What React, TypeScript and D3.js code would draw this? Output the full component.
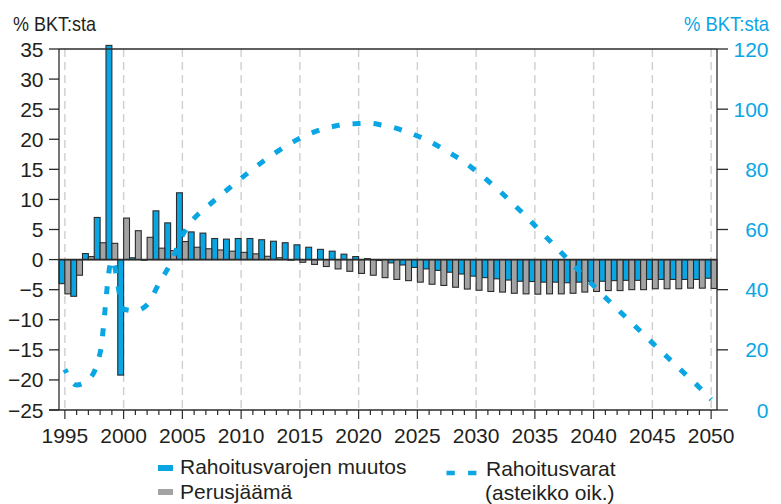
import React from 'react';
import * as d3 from 'd3';

const years = [1995,1996,1997,1998,1999,2000,2001,2002,2003,2004,2005,2006,2007,2008,2009,2010,2011,2012,2013,2014,2015,2016,2017,2018,2019,2020,2021,2022,2023,2024,2025,2026,2027,2028,2029,2030,2031,2032,2033,2034,2035,2036,2037,2038,2039,2040,2041,2042,2043,2044,2045,2046,2047,2048,2049,2050];

// Rahoitusvarojen muutos (% BKT:sta, left axis)
const rahoitusvarojenMuutos = [-4.0,-6.1,1.0,7.0,35.6,-19.2,0.3,-0.1,8.1,6.1,11.1,4.6,4.4,3.5,3.4,3.5,3.5,3.3,3.05,2.8,2.45,2.05,1.7,1.4,0.9,0.5,0.15,-0.15,-0.55,-0.9,-1.3,-1.55,-1.8,-2.1,-2.4,-2.75,-3.0,-3.2,-3.4,-3.6,-3.65,-3.75,-3.75,-3.85,-3.75,-3.6,-3.6,-3.5,-3.45,-3.45,-3.3,-3.3,-3.3,-3.3,-3.3,-3.1];

// Perusjäämä (% BKT:sta, left axis)
const perusjaama = [-5.7,-2.6,0.5,2.8,2.7,6.9,4.8,3.7,1.9,1.5,3.0,2.05,1.8,1.6,1.4,1.2,0.95,0.55,0.3,-0.1,-0.45,-0.8,-1.15,-1.55,-1.95,-2.3,-2.6,-3.0,-3.3,-3.5,-3.75,-4.1,-4.3,-4.6,-4.9,-5.1,-5.3,-5.4,-5.6,-5.7,-5.75,-5.7,-5.7,-5.6,-5.4,-5.3,-5.15,-5.15,-5.0,-5.0,-4.85,-4.85,-4.85,-4.75,-4.75,-4.8];

// Rahoitusvarat (% BKT:sta, right axis)
const rahoitusvarat = [13.5,8.3,10,19,50,33.5,33,35,42,48.8,58,63.7,67.2,70.6,73.8,77,80.1,83,85.7,88.2,90.3,92.1,93.5,94.4,95.1,95.2,95.3,94.7,93.9,92.6,91.1,89.3,87.2,84.9,82.4,79.4,76.2,72.8,69.1,65.3,61.3,57.3,53.3,49.3,45.3,41.3,37.4,33.6,29.9,26.1,22.3,18.6,14.9,11.2,7.5,3.5];

const leftTicks = [-25,-20,-15,-10,-5,0,5,10,15,20,25,30,35];
const rightTicks = [0,20,40,60,80,100,120];
const xMajorYears = [1995,2000,2005,2010,2015,2020,2025,2030,2035,2040,2045,2050];

const BLUE = '#0AA6E4';
const GRAY = '#A3A3A3';
const DARK = '#2b2b2b';
const FONT = '"Liberation Sans", Arial, Helvetica, sans-serif';

export default function App() {
  const W = 781, H = 504;
  const L = 59, R = 717, T = 49, B = 410;
  const x = d3.scaleLinear().domain([1994.5, 2050.5]).range([L, R]);
  const yL = d3.scaleLinear().domain([-25, 35]).range([B, T]);
  const yR = d3.scaleLinear().domain([0, 120]).range([B, T]);
  const bw = (x(1996) - x(1995)) / 2;

  const line = d3.line<number>()
    .x((_, i) => x(years[i]))
    .y((d) => yR(d))
    .curve(d3.curveMonotoneX);

  const fmt = (v: number) => (v < 0 ? '\u2212' + Math.abs(v) : String(v));

  return (
    <svg width={W} height={H} style={{ position: 'absolute', left: 0, top: 0, background: '#fff' }} fontFamily={FONT}>
      {/* gridlines */}
      {xMajorYears.map((yr) => (
        <line key={'g' + yr} x1={x(yr)} x2={x(yr)} y1={T} y2={B} stroke="#cfcfcf" strokeWidth={1.4} strokeDasharray="8 5" />
      ))}
      {/* bars */}
      {years.map((yr, i) => {
        const v = rahoitusvarojenMuutos[i];
        return (
          <rect key={'b' + yr} x={x(yr) - bw} width={bw} y={Math.min(yL(v), yL(0))} height={Math.abs(yL(v) - yL(0))}
            fill={BLUE} stroke={DARK} strokeWidth={1.1} />
        );
      })}
      {years.map((yr, i) => {
        const v = perusjaama[i];
        return (
          <rect key={'p' + yr} x={x(yr)} width={bw} y={Math.min(yL(v), yL(0))} height={Math.abs(yL(v) - yL(0))}
            fill={GRAY} stroke={DARK} strokeWidth={1.1} />
        );
      })}
      {/* zero line */}
      <line x1={L} x2={R} y1={yL(0)} y2={yL(0)} stroke={DARK} strokeWidth={1.6} />
      {/* frame */}
      <line x1={L} x2={R} y1={T} y2={T} stroke={DARK} strokeWidth={1.3} />
      <line x1={L} x2={L} y1={T} y2={B} stroke={DARK} strokeWidth={1.3} />
      <line x1={R} x2={R} y1={T} y2={B} stroke={DARK} strokeWidth={1.3} />
      <line x1={L - 10} x2={R} y1={B} y2={B} stroke={DARK} strokeWidth={1.3} />
      {/* left ticks */}
      {leftTicks.map((t) => (
        <g key={'lt' + t}>
          <line x1={L - 10} x2={L} y1={yL(t)} y2={yL(t)} stroke={DARK} strokeWidth={1.3} />
          <text x={43.5} y={yL(t) + 7.5} textAnchor="end" fontSize={21} fill="#231F20">{fmt(t)}</text>
        </g>
      ))}
      {/* right ticks */}
      {rightTicks.map((t) => (
        <g key={'rt' + t}>
          <line x1={R} x2={R + 11} y1={yR(t)} y2={yR(t)} stroke={DARK} strokeWidth={1.3} />
          <text x={768.5} y={yR(t) + 7.5} textAnchor="end" fontSize={21} fill={BLUE}>{t}</text>
        </g>
      ))}
      {/* bottom ticks */}
      {years.map((yr) => {
        const major = xMajorYears.includes(yr);
        return <line key={'bt' + yr} x1={x(yr)} x2={x(yr)} y1={B} y2={B + (major ? 9 : 5)} stroke={DARK} strokeWidth={1.2} />;
      })}
      {xMajorYears.map((yr) => (
        <text key={'xl' + yr} x={x(yr)} y={443} textAnchor="middle" fontSize={21} fill="#231F20">{yr}</text>
      ))}
      {/* dashed line */}
      <path d={line(rahoitusvarat) || ''} fill="none" stroke={BLUE} strokeWidth={5} strokeDasharray="8 13" strokeDashoffset={4} />
      {/* titles */}
      <text x={13} y={31} fontSize={21} fill="#231F20" textLength={83} lengthAdjust="spacingAndGlyphs">% BKT:sta</text>
      <text x={684} y={31} fontSize={21} fill={BLUE} textLength={85} lengthAdjust="spacingAndGlyphs">% BKT:sta</text>
      {/* legend */}
      <rect x={158} y={465} width={15} height={6} fill={BLUE} />
      <text x={180} y={473.5} fontSize={21} fill="#231F20">Rahoitusvarojen muutos</text>
      <rect x={158} y={489} width={15} height={6} fill={GRAY} />
      <text x={180} y={499} fontSize={21} fill="#231F20">Perusjäämä</text>
      <line x1={446.5} x2={477} y1={473} y2={473} stroke={BLUE} strokeWidth={4.5} strokeDasharray="8.3 13.3" />
      <text x={486} y={476} fontSize={21} fill="#231F20">Rahoitusvarat</text>
      <text x={485} y={499.5} fontSize={21} fill="#231F20">(asteikko oik.)</text>
    </svg>
  );
}
